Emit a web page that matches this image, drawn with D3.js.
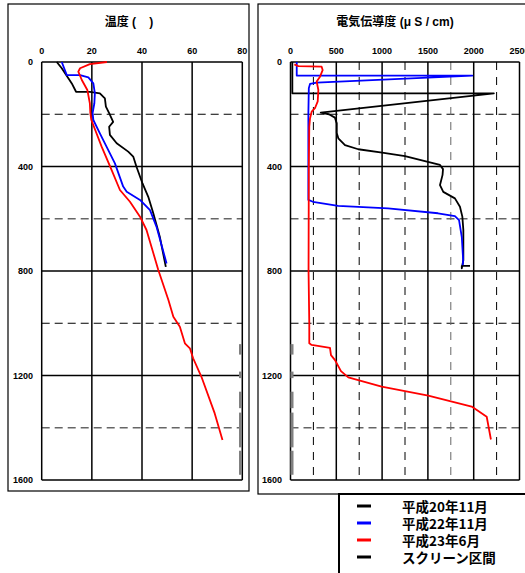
<!DOCTYPE html>
<html>
<head>
<meta charset="utf-8">
<script src="https://cdn.jsdelivr.net/npm/d3@7"></script>
<style>
body { margin: 0; background: #fff; }
text { font-family: "Liberation Sans", Arial, "Noto Sans CJK JP", sans-serif; font-weight: bold; }
</style>
</head>
<body>
<svg id="chart" width="525" height="573"></svg>
<script>
// depth ticks (m)
let depthTicks = [0, 400, 800, 1200, 1600];
let depthDashTicks = [200, 600, 1000, 1400];
let tempTicks = [0, 20, 40, 60, 80];
let ecTicks = [0, 500, 1000, 1500, 2000, 2500];
let ecDashTicks = [250, 750, 1250, 1750, 2250];

// temperature profiles [value, depth]
let tempH20 = [[6,0],[8,24],[12,82],[13.7,114],[19.2,114],[23.2,120],[25.2,139],[25.6,171],[26.9,196],[28.5,229],[26.9,248],[27.2,279],[29.9,311],[34.5,343],[36.5,362],[37.8,401],[40.2,465],[42.5,516],[44.5,579],[47.1,669],[49.5,784]];
let tempH22 = [[8,0],[10,50],[15.3,50],[18.6,59],[20.6,82],[21.2,120],[21,158],[20.3,196],[20.6,222],[23.2,273],[29.2,388],[32.5,477],[33.9,497],[39.2,528],[43.2,567],[45.8,631],[49.8,771]];
let tempH23 = [[26,0],[19.2,8],[15.3,24],[14.6,37],[16,69],[18.2,107],[19.2,158],[19.4,196],[19.8,222],[23.9,324],[27.9,414],[31.2,490],[35.2,535],[39.2,592],[41.8,643],[46.5,796],[50.5,910],[52.5,975],[55.1,1013],[57.1,1077],[59.1,1096],[60.4,1134],[63.7,1205],[69,1345],[72.1,1447]];

// conductivity profiles [value, depth]
let ecH20 = [[20,0],[20,120],[2220,120],[330,194],[420,200],[485,213],[505,235],[505,272],[522,292],[595,318],[740,334],[1000,347],[1250,360],[1500,382],[1632,394],[1665,410],[1660,432],[1632,471],[1668,497],[1795,522],[1850,554],[1876,592],[1887,643],[1887,758],[1870,790],[1870,780],[1960,780]];
let ecH22 = [[68,0],[68,52],[1985,52],[286,79],[213,84],[200,100],[195,200],[195,528],[245,535],[520,551],[1065,560],[1610,579],[1795,590],[1840,605],[1870,670],[1885,758],[1880,778]];
let ecH23 = [[42,9],[85,16],[340,18],[351,31],[322,56],[286,75],[304,107],[297,151],[267,177],[231,190],[213,216],[205,248],[200,400],[197,800],[205,1000],[205,1077],[231,1083],[431,1094],[442,1122],[486,1141],[551,1183],[631,1207],[995,1243],[1504,1277],[1978,1319],[2142,1358],[2188,1445]];

// screen intervals [top, bottom] depth
let screens = [[1080,1120],[1185,1210],[1262,1325],[1342,1475],[1488,1580]];

let legendLabels = ['平成20年11月', '平成22年11月', '平成23年6月', 'スクリーン区間'];
let legendColors = ['#000', '#0000ff', '#ff0000', '#000'];

let svg = d3.select('#chart');

let y = d3.scaleLinear().domain([0, 1600]).range([62, 480]);

function drawPanel(opt) {
	let g = svg.append('g');
	let x = opt.x;
	let x0 = x.range()[0], x1 = x.range()[1];

	// outer frame
	g.append('rect')
		.attr('x', opt.frame[0]).attr('y', opt.frame[1])
		.attr('width', opt.frame[2]).attr('height', opt.frame[3])
		.attr('fill', 'none').attr('stroke', '#000').attr('stroke-width', 1.2);

	// dashed grid
	g.selectAll('.hd').data(depthDashTicks).enter().append('line')
		.attr('x1', x0).attr('x2', x1)
		.attr('y1', d => y(d)).attr('y2', d => y(d))
		.attr('stroke', (d, i) => i % 2 ? '#666' : '#000')
		.attr('stroke-width', (d, i) => i % 2 ? 1.4 : 1)
		.attr('stroke-dasharray', '8,5');
	if (opt.dashX) {
		g.selectAll('.vd').data(opt.dashX).enter().append('line')
			.attr('x1', d => x(d)).attr('x2', d => x(d))
			.attr('y1', y(0)).attr('y2', y(1600))
			.attr('stroke', (d, i) => i == 3 ? '#666' : '#000')
			.attr('stroke-width', 1)
			.attr('stroke-dasharray', '8,7');
	}
	// solid grid
	g.selectAll('.hs').data(depthTicks).enter().append('line')
		.attr('x1', x0).attr('x2', x1)
		.attr('y1', d => y(d)).attr('y2', d => y(d))
		.attr('stroke', '#000').attr('stroke-width', 1.5);
	g.selectAll('.vs').data(opt.ticks).enter().append('line')
		.attr('x1', d => x(d)).attr('x2', d => x(d))
		.attr('y1', y(0)).attr('y2', y(1600))
		.attr('stroke', '#000').attr('stroke-width', 1.5);

	// screen intervals
	g.selectAll('.scr').data(screens).enter().append('rect')
		.attr('x', opt.screenX).attr('width', 3)
		.attr('y', d => y(d[0])).attr('height', d => y(d[1]) - y(d[0]))
		.attr('fill', '#808080');

	// tick labels
	g.selectAll('.xl').data(opt.ticks).enter().append('text')
		.attr('x', d => x(d)).attr('y', 54)
		.attr('text-anchor', 'middle').attr('font-size', 9)
		.text(d => d);
	g.selectAll('.yl').data(depthTicks).enter().append('text')
		.attr('x', opt.yLabelX).attr('y', d => y(d) + 3)
		.attr('text-anchor', 'end').attr('font-size', 9)
		.text(d => d);

	// title
	g.append('text')
		.attr('x', opt.titleX).attr('y', 26)
		.attr('text-anchor', 'middle').attr('font-size', 12)
		.text(opt.title);

	// profiles
	let line = d3.line().x(d => x(d[0])).y(d => y(d[1]));
	opt.series.forEach(function(s, i) {
		g.append('path')
			.attr('d', line(s))
			.attr('fill', 'none')
			.attr('stroke', legendColors[i])
			.attr('stroke-width', 1.8)
			.attr('stroke-linejoin', 'round');
	});
}

drawPanel({
	x: d3.scaleLinear().domain([0, 80]).range([41.7, 242.3]),
	ticks: tempTicks,
	frame: [8, 4, 241, 487],
	screenX: 239,
	yLabelX: 33,
	titleX: 129,
	title: '温度 (\u00a0\u00a0\u00a0\u00a0)',
	series: [tempH20, tempH22, tempH23]
});

drawPanel({
	x: d3.scaleLinear().domain([0, 2500]).range([290.5, 519.5]),
	ticks: ecTicks,
	dashX: ecDashTicks,
	frame: [258, 4, 280, 490],
	screenX: 290.5,
	yLabelX: 282,
	titleX: 395,
	title: '電気伝導度 (μ S / cm)',
	series: [ecH20, ecH22, ecH23]
});

// legend
let lg = svg.append('g');
lg.append('rect')
	.attr('x', 339).attr('y', 494).attr('width', 200).attr('height', 100)
	.attr('fill', '#fff').attr('stroke', '#000').attr('stroke-width', 2);
let rows = lg.selectAll('.row').data(legendLabels).enter().append('g')
	.attr('transform', (d, i) => 'translate(0,' + (506 + i * 17) + ')');
rows.append('line')
	.attr('x1', 357).attr('x2', 371)
	.attr('stroke', (d, i) => legendColors[i])
	.attr('stroke-width', 3);
rows.append('text')
	.attr('x', 402).attr('y', 6)
	.attr('font-size', 13.5)
	.style('font-family', '"Noto Sans CJK JP", sans-serif')
	.text(d => d);
</script>
</body>
</html>
